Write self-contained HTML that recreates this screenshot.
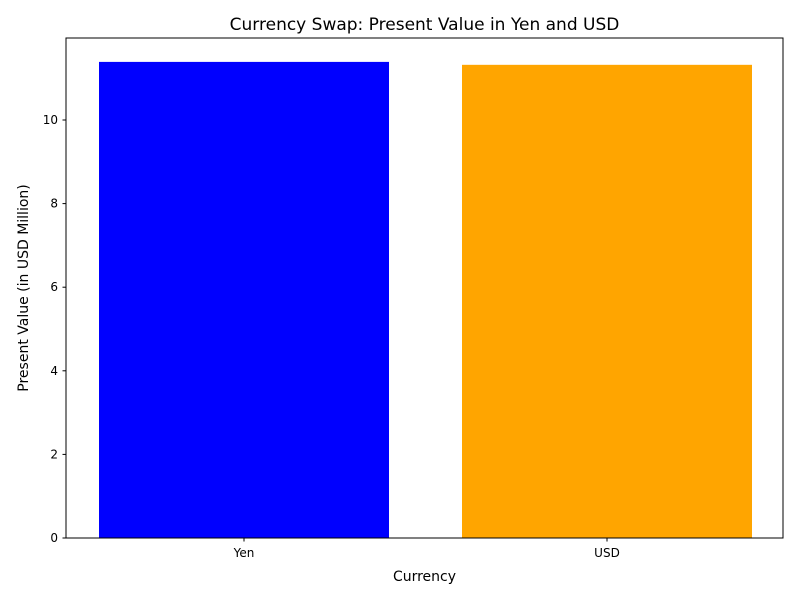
<!DOCTYPE html>
<html><head><meta charset="utf-8"><style>
body{margin:0;background:#fff;font-family:"Liberation Sans","DejaVu Sans",sans-serif;}
</style></head><body>
<svg id="chart" width="800" height="600" font-family="DejaVu Sans, Liberation Sans, sans-serif">
<rect width="800" height="600" fill="#fff"/>
<text x="424.5" y="30" text-anchor="middle" font-size="17">Currency Swap: Present Value in Yen and USD</text>
<g id="bars"></g>
<g id="yticks"></g>
<g id="xticks"></g>
<rect x="66" y="38" width="717" height="500" fill="none" stroke="#000" stroke-width="1"/>
<text x="424.5" y="581" text-anchor="middle" font-size="14">Currency</text>
<text transform="translate(28,288) rotate(-90)" text-anchor="middle" font-size="14">Present Value (in USD Million)</text>
</svg>
<script>
const categories = ["Yen", "USD"];
const values = [11.39, 11.32];
const colors = ["blue", "orange"];
const yTicks = [0, 2, 4, 6, 8, 10];

const ns = "http://www.w3.org/2000/svg";
const y0 = 538, pxPerUnit = 41.8;
function yScale(v){ return y0 - v * pxPerUnit; }
const xStart = 244, step = 363;
function xScale(i){ return xStart + i * step; }
const barW = 290;

const bars = document.getElementById("bars");
values.forEach((v, i) => {
  const r = document.createElementNS(ns, "rect");
  r.setAttribute("x", xScale(i) - barW / 2);
  r.setAttribute("y", yScale(v));
  r.setAttribute("width", barW);
  r.setAttribute("height", y0 - yScale(v));
  r.setAttribute("fill", colors[i]);
  
  
  bars.appendChild(r);
});

const yt = document.getElementById("yticks");
yTicks.forEach(t => {
  const y = yScale(t);
  const l = document.createElementNS(ns, "line");
  l.setAttribute("x1", 62.5); l.setAttribute("x2", 66);
  l.setAttribute("y1", y); l.setAttribute("y2", y);
  l.setAttribute("stroke", "#000");
  
  
  yt.appendChild(l);
  const tx = document.createElementNS(ns, "text");
  tx.setAttribute("x", 58); tx.setAttribute("y", y + 4);
  tx.setAttribute("text-anchor", "end"); tx.setAttribute("font-size", "12");
  tx.textContent = t;
  
  
  yt.appendChild(tx);
});

const xt = document.getElementById("xticks");
categories.forEach((c, i) => {
  const x = xScale(i);
  const l = document.createElementNS(ns, "line");
  l.setAttribute("x1", x); l.setAttribute("x2", x);
  l.setAttribute("y1", 538); l.setAttribute("y2", 541.5);
  l.setAttribute("stroke", "#000");
  
  
  xt.appendChild(l);
  const tx = document.createElementNS(ns, "text");
  tx.setAttribute("x", x); tx.setAttribute("y", 557);
  tx.setAttribute("text-anchor", "middle"); tx.setAttribute("font-size", "12");
  tx.textContent = c;
  
  
  xt.appendChild(tx);
});
</script>
</body></html>
